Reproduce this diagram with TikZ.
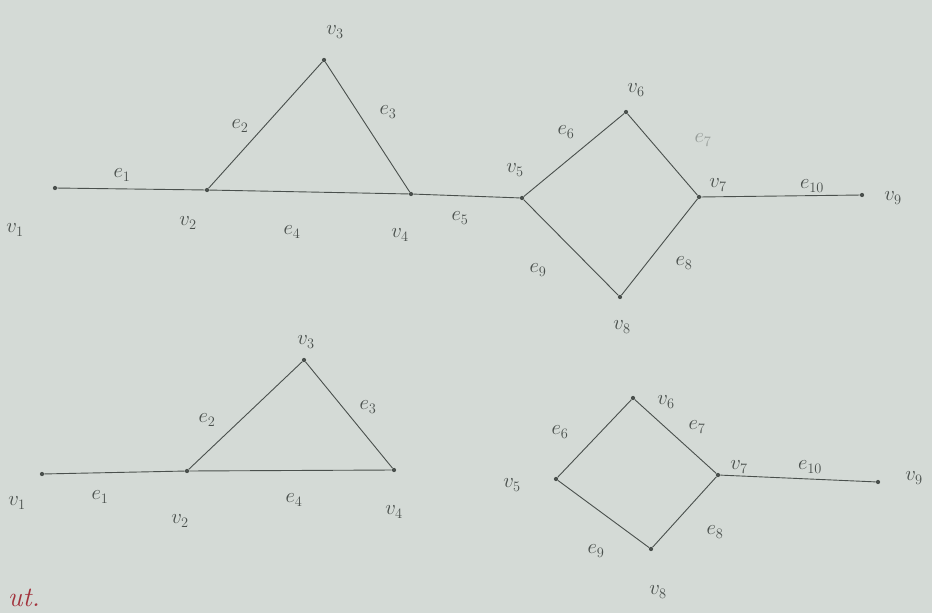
\documentclass[tikz,border=0pt]{standalone}
\usepackage{amsmath,amssymb}
\usepackage{tikz}
\usetikzlibrary{positioning}
\definecolor{paper}{HTML}{D4DAD6}
\definecolor{pencil}{HTML}{4A504D}
\definecolor{redpen}{HTML}{A2323C}

\begin{document}
\begin{tikzpicture}[x=1pt,y=-1pt,font=\fontsize{21}{24}\selectfont,
  vtx/.style={circle,fill=pencil,inner sep=1.5pt},
  lbl/.style={text=pencil,inner sep=1pt},
  edge/.style={draw=pencil,line width=0.9pt}]
  \fill[paper] (0,0) rectangle (932,613);
  \useasboundingbox (0,0) rectangle (932,613);
  % first graph
  \node[vtx] (a1) at (55,188) {};
  \node[vtx] (a2) at (207,190) {};
  \node[vtx] (a3) at (324,60) {};
  \node[vtx] (a4) at (411,194) {};
  \node[vtx] (a5) at (522,198) {};
  \node[vtx] (a6) at (626,112) {};
  \node[vtx] (a7) at (699,197) {};
  \node[vtx] (a8) at (620,297) {};
  \node[vtx] (a9) at (862,195) {};
  \draw[edge] (a1) -- (a2);
  \draw[edge] (a2) -- (a3);
  \draw[edge] (a3) -- (a4);
  \draw[edge] (a2) -- (a4);
  \draw[edge] (a4) -- (a5);
  \draw[edge] (a5) -- (a6);
  \draw[edge] (a6) -- (a7);
  \draw[edge] (a7) -- (a8);
  \draw[edge] (a5) -- (a8);
  \draw[edge] (a7) -- (a9);
  \node[lbl] (av1) at (15,230) {$v_1$};
  \node[lbl] (av2) at (188,223) {$v_2$};
  \node[lbl] (av3) at (335,32) {$v_3$};
  \node[lbl] (av4) at (400,235) {$v_4$};
  \node[lbl] (av5) at (515,170) {$v_5$};
  \node[lbl] (av6) at (636,90) {$v_6$};
  \node[lbl] (av7) at (718,185) {$v_7$};
  \node[lbl] (av8) at (622,327) {$v_8$};
  \node[lbl] (av9) at (893,198) {$v_9$};
  \node[lbl] (ae1) at (122,175) {$e_1$};
  \node[lbl] (ae2) at (240,126) {$e_2$};
  \node[lbl] (ae3) at (388,112) {$e_3$};
  \node[lbl] (ae4) at (292,232) {$e_4$};
  \node[lbl] (ae5) at (460,218) {$e_5$};
  \node[lbl] (ae6) at (566,132) {$e_6$};
  \node[lbl,opacity=0.45] (ae7) at (703,140) {$e_7$};
  \node[lbl] (ae8) at (684,263) {$e_8$};
  \node[lbl] (ae9) at (538,270) {$e_9$};
  \node[lbl] (ae10) at (812,186) {$e_{10}$};
  % second graph
  \node[vtx] (b1) at (42,474) {};
  \node[vtx] (b2) at (187,471) {};
  \node[vtx] (b3) at (304,360) {};
  \node[vtx] (b4) at (394,470) {};
  \node[vtx] (b5) at (556,479) {};
  \node[vtx] (b6) at (633,398) {};
  \node[vtx] (b7) at (718,475) {};
  \node[vtx] (b8) at (651,549) {};
  \node[vtx] (b9) at (878,482) {};
  \draw[edge] (b1) -- (b2);
  \draw[edge] (b2) -- (b3);
  \draw[edge] (b3) -- (b4);
  \draw[edge] (b2) -- (b4);
  \draw[edge] (b5) -- (b6);
  \draw[edge] (b6) -- (b7);
  \draw[edge] (b7) -- (b8);
  \draw[edge] (b5) -- (b8);
  \draw[edge] (b7) -- (b9);
  \node[lbl] (bv1) at (17,503) {$v_1$};
  \node[lbl] (bv2) at (180,521) {$v_2$};
  \node[lbl] (bv3) at (306,342) {$v_3$};
  \node[lbl] (bv4) at (394,512) {$v_4$};
  \node[lbl] (bv5) at (512,485) {$v_5$};
  \node[lbl] (bv6) at (666,402) {$v_6$};
  \node[lbl] (bv7) at (739,467) {$v_7$};
  \node[lbl] (bv8) at (658,592) {$v_8$};
  \node[lbl] (bv9) at (914,478) {$v_9$};
  \node[lbl] (be1) at (100,497) {$e_1$};
  \node[lbl] (be2) at (207,420) {$e_2$};
  \node[lbl] (be3) at (368,407) {$e_3$};
  \node[lbl] (be4) at (294,500) {$e_4$};
  \node[lbl] (be6) at (560,432) {$e_6$};
  \node[lbl] (be7) at (697,427) {$e_7$};
  \node[lbl] (be8) at (715,532) {$e_8$};
  \node[lbl] (be9) at (596,551) {$e_9$};
  \node[lbl] (be10) at (810,467) {$e_{10}$};
  % margin note
  \node[text=redpen,font=\fontsize{28}{30}\selectfont\itshape] (out) at (24,598) {ut.};
\end{tikzpicture}
\end{document}
